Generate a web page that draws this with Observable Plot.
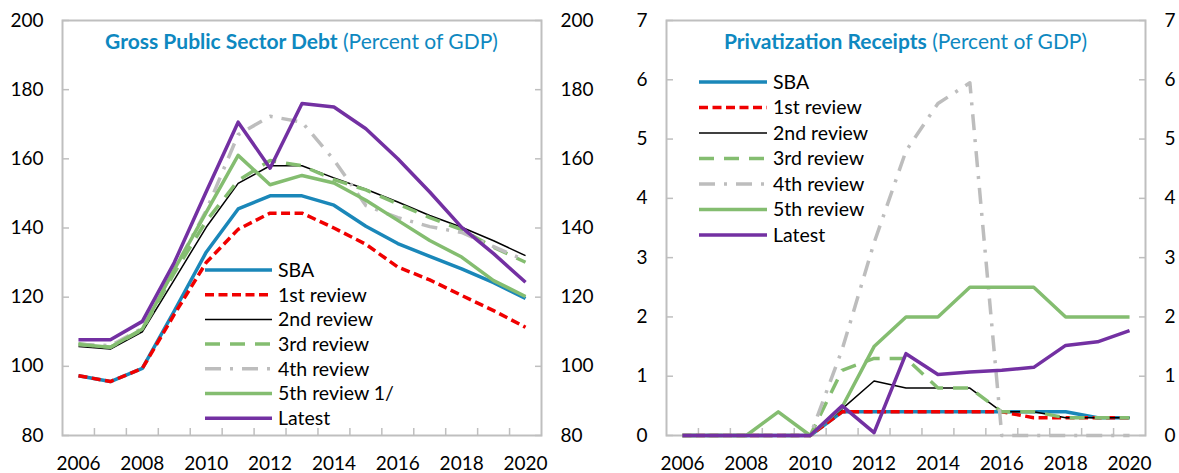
<!DOCTYPE html>
<html><head><meta charset="utf-8">
<script src="https://cdn.jsdelivr.net/npm/d3@7"></script>
<script src="https://cdn.jsdelivr.net/npm/@observablehq/plot@0.6"></script>
<style>
body{margin:0;background:#fff;}
#wrap{display:flex;width:1179px;height:473px;overflow:hidden;}
#wrap svg{overflow:visible;display:block}
</style></head><body><div id="wrap"></div>
<script>
// ---- data ----
const years = [2006,2007,2008,2009,2010,2011,2012,2013,2014,2015,2016,2017,2018,2019,2020];
const xLabelYears = [2006,2008,2010,2012,2014,2016,2018,2020];
const debtTicks = [80,100,120,140,160,180,200];
const privTicks = [0,1,2,3,4,5,6,7];

const debtNames = ["SBA","1st review","2nd review","3rd review","4th review","5th review 1/","Latest"];
const privNames = ["SBA","1st review","2nd review","3rd review","4th review","5th review","Latest"];

const debtSBA    = [97.3,95.6,99.4,116,133,145.5,149.3,149.3,146.6,140.5,135.5,131.8,128.2,124.2,119.6];
const debt1st    = [97.3,95.6,99.4,115,130,139.6,144.3,144.3,140,135.3,128.7,125,120.5,116.1,111.3];
const debt2nd    = [105.7,105,110,125,140.2,152.9,158,158,154.5,151.2,147.5,143.6,140.2,136.3,132];
const debt3rd    = [106.5,105.5,110.6,127,142,153.7,159.5,158,154,151,147,143,139.5,134.4,130.1];
const debt4th    = [106.3,106,111,128,145,167,172.3,170.6,159.7,146.5,143,140.4,138.7,134.6,130.6];
const debt5th    = [106.3,105.5,110.8,128,144.5,161,152.5,155.2,153,148,142.2,136.4,131.6,124.8,120.2];
const debtLatest = [107.7,107.7,113,130,150.5,170.6,157.3,176,175,168.7,160,150.4,140.2,132.6,124.3];

const privSBA    = [0,0,0,0,0,0.4,0.4,0.4,0.4,0.4,0.4,0.4,0.4,0.3,0.3];
const priv1st    = [0,0,0,0,0,0.4,0.4,0.4,0.4,0.4,0.4,0.3,0.3,0.3,0.3];
const priv2nd    = [0,0,0,0,0,0.45,0.92,0.8,0.8,0.8,0.4,0.4,0.3,0.3,0.3];
const priv3rd    = [0,0,0,0,0,1.1,1.3,1.3,0.8,0.8,0.4,0.4,0.3,0.3,0.3];
const priv4th    = [0,0,0,0,0,1.45,3.25,4.8,5.6,5.95,0,0,0,0,0];
const priv5th    = [0,0,0,0.4,0,0.48,1.5,2,2,2.5,2.5,2.5,2,2,2];
const privLatest = [0,0,0,0,0,0.5,0.05,1.38,1.03,1.07,1.1,1.15,1.52,1.58,1.77];

// ---- styles ----
const styles = [
  {stroke:"#1a87b9", strokeWidth:3.5, dash:null},
  {stroke:"#f00000", strokeWidth:3.5, dash:"9,4.5"},
  {stroke:"#000000", strokeWidth:1.5, dash:null},
  {stroke:"#84bd70", strokeWidth:3.5, dash:"15,10"},
  {stroke:"#bdbdbd", strokeWidth:3.5, dash:"16,9,3,9"},
  {stroke:"#84bd70", strokeWidth:3.5, dash:null},
  {stroke:"#7330a2", strokeWidth:3.5, dash:null}
];
const FONT = "Lato, 'Open Sans', sans-serif";
const FS = 19;
const TITLE_FS = 21;
const frameColor = "#bfbfbf";
const fmt = d => String(d);

function table(names, arrays){
  return names.map((n,k)=>years.map((y,i)=>({year:y, value:arrays[k][i], series:n})));
}

function panel({names, arrays, yDomain, yTicks, width, marginLeft, marginRight, titleBold, titleRest, legend}){
  const rows = table(names, arrays);
  const bounds = d3.range(2006.5, 2020, 1);
  const marks = [
    Plot.frame({stroke: frameColor, strokeWidth: 2}),
    Plot.axisX({ticks: bounds, tickSize: 7, dy: -7, tickFormat: () => "", label: null, stroke: frameColor, strokeWidth: 1.5}),
    Plot.axisX({ticks: xLabelYears, tickSize: 0, tickPadding: 21, tickFormat: fmt, label: null}),
    Plot.axisY({anchor: "left", ticks: yTicks, tickSize: 0, tickPadding: 19, tickFormat: fmt, label: null}),
    Plot.axisY({anchor: "right", ticks: yTicks, tickSize: 0, tickPadding: 19, tickFormat: fmt, label: null}),
    Plot.axisY({anchor: "left", ticks: yTicks, tickSize: 7, dx: 7, tickFormat: () => "", label: null, stroke: frameColor, strokeWidth: 1.5}),
    Plot.axisY({anchor: "right", ticks: yTicks, tickSize: 7, dx: -7, tickFormat: () => "", label: null, stroke: frameColor, strokeWidth: 1.5}),
    ...rows.map((r,k)=>Plot.line(r, {x:"year", y:"value", stroke: styles[k].stroke, strokeWidth: styles[k].strokeWidth, strokeDasharray: styles[k].dash, strokeLinejoin:"round", strokeLinecap:"butt"}))
  ];
  const svg = Plot.plot({
    width, height: 473,
    marginTop: 20, marginBottom: 38, marginLeft, marginRight,
    x: {domain: [2005.5, 2020.5]},
    y: {domain: yDomain},
    style: {fontFamily: FONT, fontSize: FS + "px", color: "#000", background: "transparent", overflow: "visible"},
    marks
  });
  const s = d3.select(svg);
  const cx = marginLeft + (width - marginLeft - marginRight) / 2;
  const t = s.append("text").attr("x", cx).attr("y", 49).attr("text-anchor","middle")
    .attr("font-family", FONT).attr("font-size", TITLE_FS).attr("fill", "#0e88c0");
  t.append("tspan").attr("font-weight", "bold").text(titleBold);
  t.append("tspan").text(" " + titleRest);
  const g = s.append("g").attr("text-anchor", "start");
  names.forEach((n,k)=>{
    const y = legend.y0 + k * legend.dy;
    g.append("line").attr("x1", legend.x0).attr("x2", legend.x1).attr("y1", y).attr("y2", y)
      .attr("stroke", styles[k].stroke).attr("stroke-width", styles[k].strokeWidth)
      .attr("stroke-dasharray", styles[k].dash);
    g.append("text").attr("x", legend.x1 + 6).attr("y", y).attr("dy", "0.35em").attr("text-anchor", "start")
      .attr("font-family", FONT).attr("font-size", legend.fs).attr("fill", "#000").text(n);
  });
  return svg;
}

const wrap = document.getElementById("wrap");
wrap.appendChild(panel({
  names: debtNames,
  arrays: [debtSBA, debt1st, debt2nd, debt3rd, debt4th, debt5th, debtLatest],
  yDomain: [80, 200], yTicks: debtTicks, width: 590, marginLeft: 62, marginRight: 49,
  titleBold: "Gross Public Sector Debt", titleRest: "(Percent of GDP)",
  legend: {x0: 205, x1: 272, y0: 270, dy: 24.7, fs: 19.5}
}));
wrap.appendChild(panel({
  names: privNames,
  arrays: [privSBA, priv1st, priv2nd, priv3rd, priv4th, priv5th, privLatest],
  yDomain: [0, 7], yTicks: privTicks, width: 589, marginLeft: 76, marginRight: 34,
  titleBold: "Privatization Receipts", titleRest: "(Percent of GDP)",
  legend: {x0: 109, x1: 177, y0: 82, dy: 25.5, fs: 19.5}
}));
</script></body></html>
